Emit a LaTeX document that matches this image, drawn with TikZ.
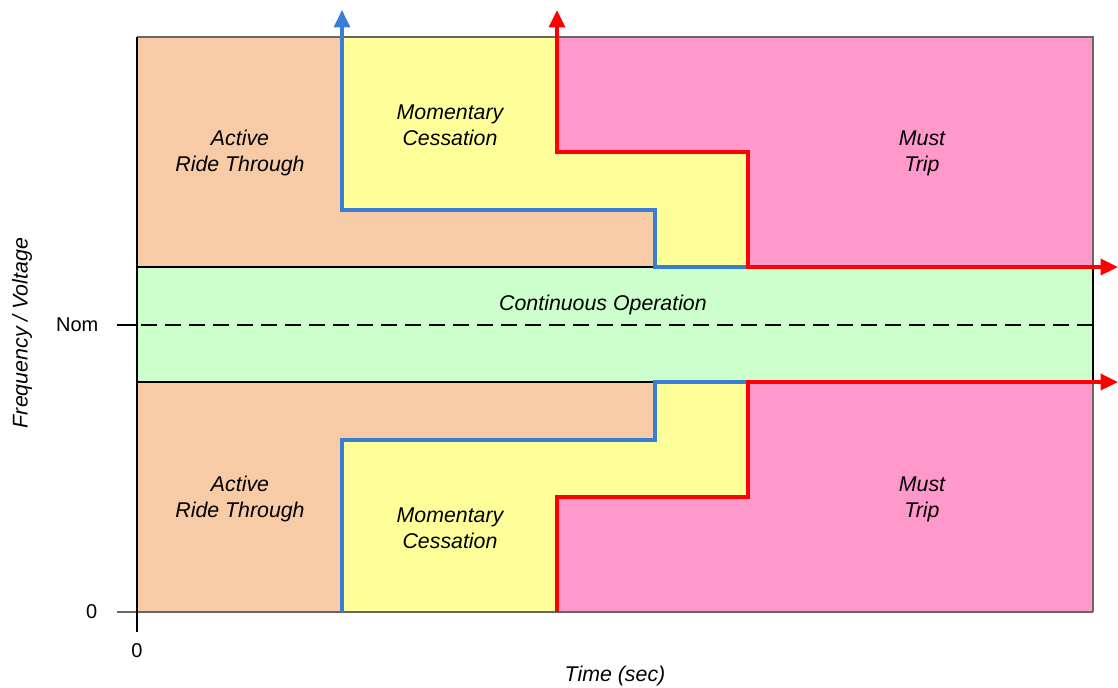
\documentclass[tikz,border=0pt]{standalone}
\usepackage{fontspec}
\setmainfont{Liberation Sans}
\usetikzlibrary{arrows.meta}
\definecolor{ridecol}{HTML}{F8CBA7}
\definecolor{cesscol}{HTML}{FFFF99}
\definecolor{tripcol}{HTML}{FF99CC}
\definecolor{contcol}{HTML}{CCFFCC}
\definecolor{bluecol}{HTML}{3A7DD4}
\begin{document}
\begin{tikzpicture}[x=0.75pt, y=-0.75pt, >={Triangle[length=13pt, width=12pt]},
  region/.style={font=\fontsize{16}{19.5}\selectfont\itshape, align=center},
  ticklabel/.style={font=\fontsize{15}{18}\selectfont},
  bluebound/.style={bluecol, line width=2.4pt},
  redbound/.style={red, line width=2.6pt},
  frame/.style={gray!80!black, line width=0.8pt}]
  \useasboundingbox (0,0) rectangle (1118,687);
  % zones
  \fill[ridecol] (137,37) rectangle (1093,612);
  \fill[cesscol] (342,37) -- (342,210) -- (655,210) -- (655,267) -- (1093,267) -- (1093,37) -- cycle;
  \fill[tripcol] (557,37) -- (557,152) -- (748,152) -- (748,267) -- (1093,267) -- (1093,37) -- cycle;
  \fill[cesscol] (342,612) -- (342,440) -- (655,440) -- (655,382) -- (1093,382) -- (1093,612) -- cycle;
  \fill[tripcol] (557,612) -- (557,497) -- (748,497) -- (748,382) -- (1093,382) -- (1093,612) -- cycle;
  % frame and axes
  \draw[frame] (137,37) -- (1093,37) -- (1093,612);
  \draw[frame] (117,612) -- (1093,612);
  \draw[fill=contcol, line width=1pt] (137,267) rectangle (1093,382);
  \draw[dashed, dash pattern=on 12pt off 6pt, line width=1pt] (117,325) -- (1093,325);
  \draw[line width=0.8pt] (137,37) -- (137,632);
  \draw[line width=0.8pt] (117,325) -- (137,325);
  % boundaries
  \draw[bluebound, ->] (748,267) -- (655,267) -- (655,210) -- (342,210) -- (342,10);
  \draw[redbound, <->] (557,10) -- (557,152) -- (748,152) -- (748,267) -- (1118,267);
  \draw[bluebound] (748,382) -- (655,382) -- (655,440) -- (342,440) -- (342,612);
  \draw[redbound, ->] (557,612) -- (557,497) -- (748,497) -- (748,382) -- (1118,382);
  % labels
  \node[region] (rideup) at (240,153) {Active\\Ride Through};
  \node[region] (cessup) at (450,125) {Momentary\\Cessation};
  \node[region] (tripup) at (922,153) {Must\\Trip};
  \node[region] (contop) at (603,305) {Continuous Operation};
  \node[region] (ridelo) at (240,499) {Active\\Ride Through};
  \node[region] (cesslo) at (450,528) {Momentary\\Cessation};
  \node[region] (triplo) at (922,499) {Must\\Trip};
  \node[ticklabel, anchor=east] (nom) at (103,325) {Nom};
  \node[ticklabel, anchor=east] (yzero) at (102,612) {0};
  \node[ticklabel] (xzero) at (137,651) {0};
  \node[region] (xlabel) at (615,676) {Time (sec)};
  \node[region, rotate=90] (ylabel) at (22,333) {Frequency / Voltage};
\end{tikzpicture}
\end{document}
